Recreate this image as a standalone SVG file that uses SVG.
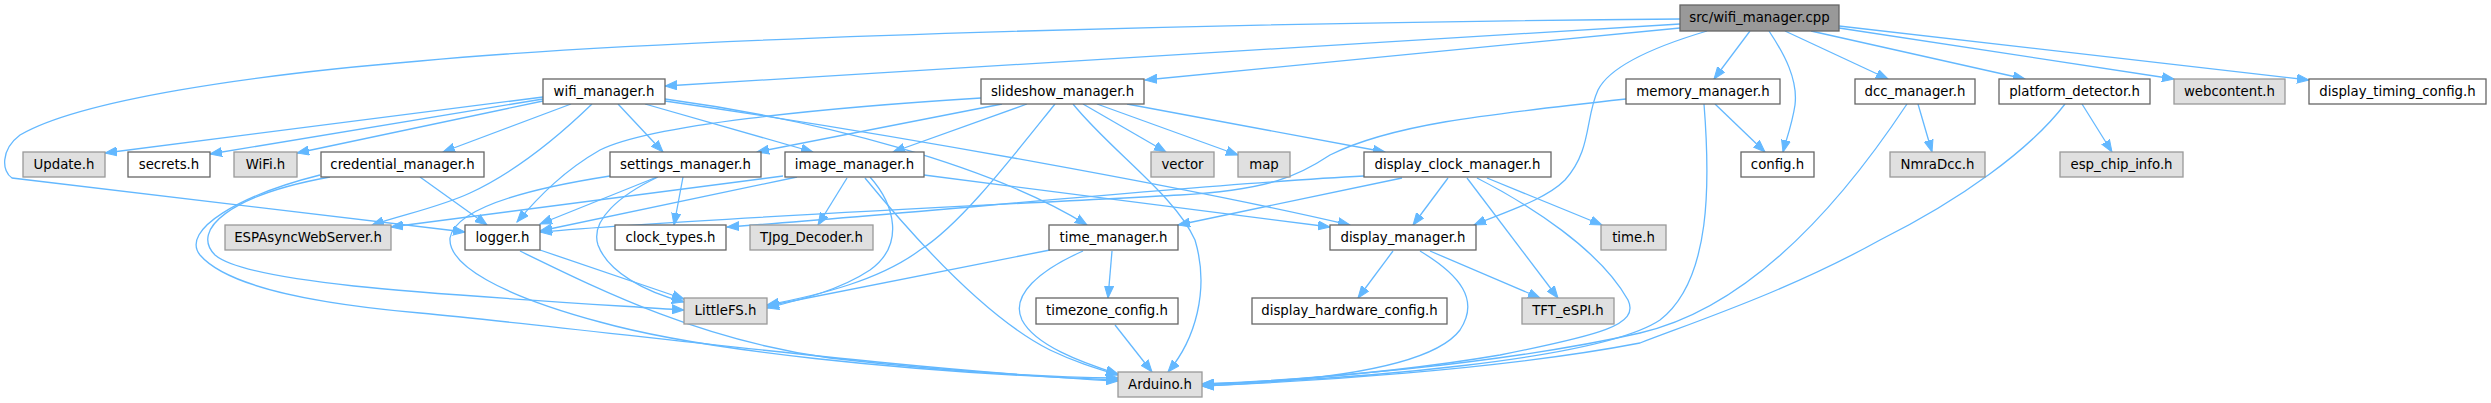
<svg xmlns="http://www.w3.org/2000/svg" width="2491" height="403" viewBox="0 0 2491 403">
<style>
text{font-family:"DejaVu Sans","Liberation Sans",sans-serif;font-size:13.3px;fill:#000;text-anchor:middle}
.n rect{fill:#fff;stroke:#666;stroke-width:1.3}
.x rect{fill:#e0e0e0;stroke:#999;stroke-width:1.3}
.r rect{fill:#999;stroke:#666;stroke-width:1.3}
#edges path{fill:none;stroke:#63b8ff;stroke-width:1.3;marker-end:url(#a)}
</style>
<defs>
<marker id="a" markerUnits="userSpaceOnUse" markerWidth="13" markerHeight="10" refX="12" refY="5" orient="auto">
<path d="M0,0.5 L12,5 L0,9.5 z" fill="#63b8ff" stroke="#63b8ff" stroke-width="1"/>
</marker>
</defs>
<rect width="2491" height="403" fill="#fff"/>
<g id="edges">
<path d="M1680,24 L665,86"/>
<path d="M1680,28 L1145,80"/>
<path d="M1680,19 C1300,22 700,35 420,61 C250,75 80,100 20,135 C0,150 2,172 12,178 L465,232"/>
<path d="M1750,31 L1714,79"/>
<path d="M1769,31 C1785,55 1798,80 1795,105 C1792,125 1786,140 1783,152"/>
<path d="M1785,31 L1888,79"/>
<path d="M1811,31 L2025,79"/>
<path d="M1839,28 L2174,79"/>
<path d="M1839,26 L2309,80"/>
<path d="M1707,31 C1670,42 1612,62 1598,90 C1585,118 1592,150 1565,180 C1545,200 1505,212 1474,225"/>
<path d="M543,97 L105,153"/>
<path d="M543,99 L210,154"/>
<path d="M543,101 L297,153"/>
<path d="M571,104 L443,152"/>
<path d="M592,104 C560,135 515,172 470,193 C440,207 405,214 372,225"/>
<path d="M618,104 L663,152"/>
<path d="M645,104 L813,152"/>
<path d="M665,99 C820,120 990,165 1087,225"/>
<path d="M665,101 C900,135 1200,190 1350,225"/>
<path d="M981,98 C820,108 650,125 600,150 C565,170 540,195 517,222"/>
<path d="M1002,104 L757,152"/>
<path d="M1027,104 L893,152"/>
<path d="M1055,104 C1010,160 960,225 920,250 C880,280 820,295 767,305"/>
<path d="M1073,104 C1110,150 1175,195 1195,240 C1210,290 1195,340 1168,372"/>
<path d="M1083,104 L1166,152"/>
<path d="M1097,104 L1238,155"/>
<path d="M1127,104 L1385,152"/>
<path d="M847,178 L818,225"/>
<path d="M865,178 C920,245 990,320 1050,350 C1075,362 1095,368 1118,375"/>
<path d="M870,177 C895,205 905,245 870,270 C840,290 800,300 767,308"/>
<path d="M797,177 L540,231"/>
<path d="M783,176 L391,227"/>
<path d="M924,175 L1330,227"/>
<path d="M657,177 L540,224"/>
<path d="M683,177 L674,225"/>
<path d="M658,177 C620,195 590,220 598,245 C608,272 645,292 684,302"/>
<path d="M610,176 C520,190 455,210 450,238 C448,265 500,295 600,322 C700,350 900,372 1118,380"/>
<path d="M420,177 L487,225"/>
<path d="M330,177 C230,195 190,230 215,255 C250,285 450,295 684,310"/>
<path d="M320,175 C240,195 180,230 200,255 C230,290 330,305 420,313 C600,330 900,370 1118,381"/>
<path d="M540,250 L684,299"/>
<path d="M520,251 C600,290 700,340 830,358 C950,372 1050,377 1118,378"/>
<path d="M1112,251 L1108,298"/>
<path d="M1083,251 C1040,270 1010,295 1022,320 C1035,345 1080,362 1118,374"/>
<path d="M1050,250 L767,306"/>
<path d="M1115,325 L1152,372"/>
<path d="M1393,251 L1358,298"/>
<path d="M1430,251 L1540,298"/>
<path d="M1420,251 C1460,275 1480,300 1460,330 C1430,370 1300,382 1202,386"/>
<path d="M1715,104 L1765,152"/>
<path d="M1704,104 C1710,180 1712,280 1660,320 C1600,360 1350,380 1202,384"/>
<path d="M1626,99 C1480,115 1390,125 1330,155 C1300,175 1270,190 1180,195 C1000,205 700,218 540,232"/>
<path d="M1918,104 L1932,152"/>
<path d="M1907,104 C1830,220 1740,310 1640,333 C1500,365 1300,380 1202,385"/>
<path d="M2082,104 L2112,152"/>
<path d="M2065,104 C2030,150 1960,200 1880,240 C1790,290 1700,320 1640,343 C1500,370 1300,382 1202,386"/>
<path d="M1448,178 L1413,225"/>
<path d="M1467,178 L1558,298"/>
<path d="M1477,178 C1530,205 1600,250 1628,300 C1640,325 1600,335 1500,355 C1400,372 1300,380 1202,384"/>
<path d="M1487,178 L1602,225"/>
<path d="M1402,178 L1178,225"/>
<path d="M1364,176 C1200,184 900,215 727,227"/>
</g>
<g id="src_wifi_manager_cpp" class="r"><rect x="1680" y="5" width="159" height="26"/><text x="1759.5" y="22">src/wifi_manager.cpp</text></g>
<g id="wifi_manager_h" class="n"><rect x="543" y="79" width="122" height="25"/><text x="604" y="95.5">wifi_manager.h</text></g>
<g id="slideshow_manager_h" class="n"><rect x="981" y="79" width="163" height="25"/><text x="1062.5" y="95.5">slideshow_manager.h</text></g>
<g id="memory_manager_h" class="n"><rect x="1626" y="79" width="154" height="25"/><text x="1703" y="95.5">memory_manager.h</text></g>
<g id="dcc_manager_h" class="n"><rect x="1855" y="79" width="120" height="25"/><text x="1915" y="95.5">dcc_manager.h</text></g>
<g id="platform_detector_h" class="n"><rect x="1999" y="79" width="151" height="25"/><text x="2074.5" y="95.5">platform_detector.h</text></g>
<g id="webcontent_h" class="x"><rect x="2174" y="79" width="111" height="25"/><text x="2229.5" y="95.5">webcontent.h</text></g>
<g id="display_timing_config_h" class="n"><rect x="2309" y="79" width="177" height="25"/><text x="2397.5" y="95.5">display_timing_config.h</text></g>
<g id="Update_h" class="x"><rect x="23" y="152" width="82" height="25"/><text x="64" y="168.5">Update.h</text></g>
<g id="secrets_h" class="n"><rect x="128" y="152" width="82" height="25"/><text x="169" y="168.5">secrets.h</text></g>
<g id="WiFi_h" class="x"><rect x="234" y="152" width="63" height="25"/><text x="265.5" y="168.5">WiFi.h</text></g>
<g id="credential_manager_h" class="n"><rect x="321" y="152" width="163" height="25"/><text x="402.5" y="168.5">credential_manager.h</text></g>
<g id="settings_manager_h" class="n"><rect x="610" y="152" width="151" height="25"/><text x="685.5" y="168.5">settings_manager.h</text></g>
<g id="image_manager_h" class="n"><rect x="785" y="152" width="139" height="25"/><text x="854.5" y="168.5">image_manager.h</text></g>
<g id="vector" class="x"><rect x="1151" y="152" width="63" height="25"/><text x="1182.5" y="168.5">vector</text></g>
<g id="map" class="x"><rect x="1238" y="152" width="52" height="25"/><text x="1264" y="168.5">map</text></g>
<g id="display_clock_manager_h" class="n"><rect x="1364" y="152" width="187" height="25"/><text x="1457.5" y="168.5">display_clock_manager.h</text></g>
<g id="config_h" class="n"><rect x="1741" y="152" width="73" height="25"/><text x="1777.5" y="168.5">config.h</text></g>
<g id="NmraDcc_h" class="x"><rect x="1890" y="152" width="95" height="25"/><text x="1937.5" y="168.5">NmraDcc.h</text></g>
<g id="esp_chip_info_h" class="x"><rect x="2060" y="152" width="123" height="25"/><text x="2121.5" y="168.5">esp_chip_info.h</text></g>
<g id="ESPAsyncWebServer_h" class="x"><rect x="225" y="225" width="166" height="25"/><text x="308" y="241.5">ESPAsyncWebServer.h</text></g>
<g id="logger_h" class="n"><rect x="465" y="225" width="75" height="25"/><text x="502.5" y="241.5">logger.h</text></g>
<g id="clock_types_h" class="n"><rect x="615" y="225" width="111" height="25"/><text x="670.5" y="241.5">clock_types.h</text></g>
<g id="TJpg_Decoder_h" class="x"><rect x="750" y="225" width="123" height="25"/><text x="811.5" y="241.5">TJpg_Decoder.h</text></g>
<g id="time_manager_h" class="n"><rect x="1049" y="225" width="129" height="25"/><text x="1113.5" y="241.5">time_manager.h</text></g>
<g id="display_manager_h" class="n"><rect x="1330" y="225" width="146" height="25"/><text x="1403" y="241.5">display_manager.h</text></g>
<g id="time_h" class="x"><rect x="1601" y="225" width="65" height="25"/><text x="1633.5" y="241.5">time.h</text></g>
<g id="LittleFS_h" class="x"><rect x="684" y="298" width="83" height="26"/><text x="725.5" y="315">LittleFS.h</text></g>
<g id="timezone_config_h" class="n"><rect x="1036" y="298" width="142" height="26"/><text x="1107" y="315">timezone_config.h</text></g>
<g id="display_hardware_config_h" class="n"><rect x="1252" y="298" width="195" height="26"/><text x="1349.5" y="315">display_hardware_config.h</text></g>
<g id="TFT_eSPI_h" class="x"><rect x="1522" y="298" width="92" height="26"/><text x="1568" y="315">TFT_eSPI.h</text></g>
<g id="Arduino_h" class="x"><rect x="1118" y="372" width="84" height="25"/><text x="1160" y="388.5">Arduino.h</text></g>
</svg>
